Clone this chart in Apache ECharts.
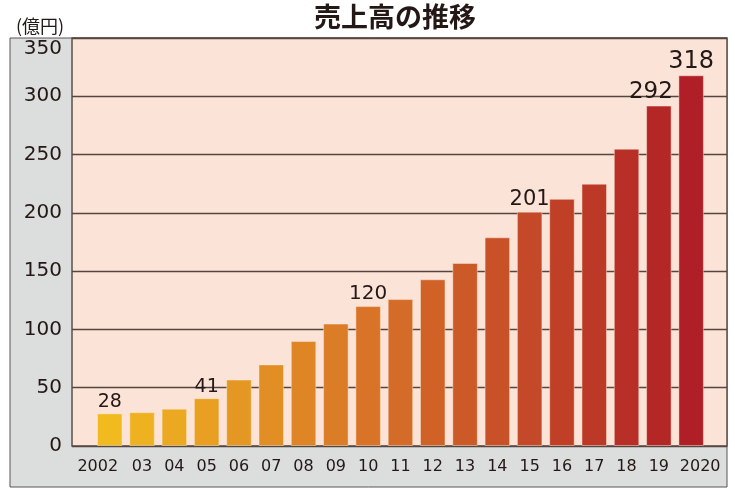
<!DOCTYPE html>
<html>
<head>
<meta charset="utf-8">
<script src="https://cdn.jsdelivr.net/npm/echarts@6/dist/echarts.min.js"></script>
<style>
  html, body { margin: 0; padding: 0; background: #fff; }
  #chart { width: 735px; height: 495px; }
</style>
</head>
<body>
<div id="chart"></div>
<script>
// 売上高（億円）
var years = ['2002', '03', '04', '05', '06', '07', '08', '09', '10', '11',
             '12', '13', '14', '15', '16', '17', '18', '19', '2020'];
var sales = [28, 29, 32, 41, 57, 70, 90, 105, 120, 126,
             143, 157, 179, 201, 212, 225, 255, 292, 318];
var labeledYears = ['2002', '05', '10', '15', '19', '2020'];
var yTicks = [0, 50, 100, 150, 200, 250, 300, 350];

var chart = echarts.init(document.getElementById('chart'));

var numFont = '"DejaVu Sans", sans-serif';
var jpFont = '"Noto Sans CJK JP", sans-serif';
var ink = '#231815';

// 黄 → 橙 → 赤 のグラデーション
function mix(a, b, t) {
    var pa = [parseInt(a.substr(1, 2), 16), parseInt(a.substr(3, 2), 16), parseInt(a.substr(5, 2), 16)];
    var pb = [parseInt(b.substr(1, 2), 16), parseInt(b.substr(3, 2), 16), parseInt(b.substr(5, 2), 16)];
    return 'rgb(' + pa.map(function (v, i) { return Math.round(v + (pb[i] - v) * t); }).join(',') + ')';
}
function barColor(i) {
    var n = years.length - 1;
    var mid = 8;
    if (i <= mid) return mix('#f1ba1f', '#d87328', i / mid);
    return mix('#d87328', '#b01e27', (i - mid) / (n - mid));
}

var labelSize = { '2002': 19, '05': 19, '10': 20, '15': 21, '19': 23, '2020': 24 };

var barData = sales.map(function (v, i) {
    var y = years[i];
    var item = { value: v, itemStyle: { color: barColor(i) } };
    if (labeledYears.indexOf(y) >= 0) {
        item.label = {
            show: true,
            position: 'top',
            distance: 2,
            fontSize: labelSize[y],
            fontFamily: numFont,
            color: ink,
            offset: y === '19' ? [-8, 0] : [0, 0]
        };
    }
    return item;
});

var xData = years.map(function (y) {
    if (y === '2002') return { value: y, textStyle: { padding: [0, 24, 0, 0] } };
    if (y === '2020') return { value: y, textStyle: { padding: [0, 0, 0, 18] } };
    return y;
});

option = {
    animation: false,
    graphic: [
        {
            type: 'rect', z: -10,
            shape: { x: 10, y: 38, width: 717, height: 449 },
            style: { fill: '#dcdddd', stroke: '#5d5554', lineWidth: 1 }
        },
        {
            type: 'text', left: 16, top: 17,
            style: { text: '(億円)', fontSize: 18, fontFamily: jpFont, fill: ink }
        },
        {
            type: 'text', x: 395, y: 17,
            style: {
                text: '売上高の推移', fontSize: 27, fontWeight: 'bold', fontFamily: jpFont,
                fill: ink, align: 'center', verticalAlign: 'middle'
            }
        }
    ],
    grid: [
        {
            left: 72, top: 38, width: 655, height: 408,
            show: true, backgroundColor: '#fbe3d7',
            borderColor: '#5e4f4b', borderWidth: 1.5
        },
        { left: 93.6, top: 38, width: 613.7, height: 408 }
    ],
    xAxis: [
        { type: 'category', gridIndex: 0, data: years, show: false },
        {
            type: 'category', gridIndex: 1, data: xData,
            axisLine: { show: false }, axisTick: { show: false },
            axisLabel: { fontSize: 16, fontFamily: numFont, color: ink, margin: 13, interval: 0 }
        }
    ],
    yAxis: [
        {
            type: 'value', gridIndex: 0, min: 0, max: 350, interval: 50,
            axisLine: { show: false }, axisTick: { show: false },
            splitLine: { lineStyle: { color: '#55463f', width: 1.4 } },
            axisLabel: {
                fontSize: 20, fontFamily: numFont, color: ink, margin: 10,
                formatter: function (v) {
                    return v === yTicks[yTicks.length - 1] ? '{top|' + v + '}' : '' + v;
                },
                rich: { top: { fontSize: 20, fontFamily: numFont, color: ink, padding: [22, 0, 0, 0] } }
            }
        },
        { type: 'value', gridIndex: 1, min: 0, max: 350, show: false }
    ],
    series: [
        {
            type: 'bar', xAxisIndex: 1, yAxisIndex: 1,
            data: barData,
            barWidth: 25.5,
            itemStyle: { borderColor: 'rgba(255,235,215,0.45)', borderWidth: 1 }
        }
    ]
};

chart.setOption(option);
</script>
</body>
</html>
